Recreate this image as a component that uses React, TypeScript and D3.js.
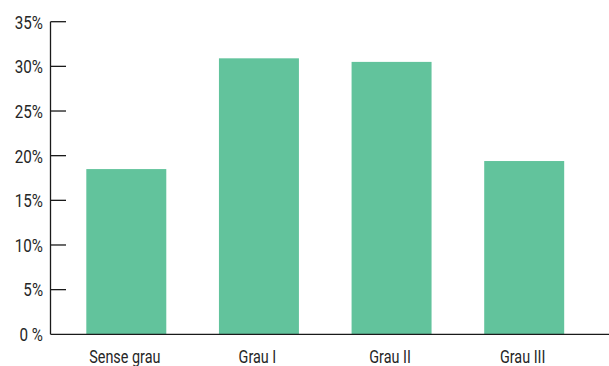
import React from "react";
import * as d3 from "d3";

const categories = ["Sense grau", "Grau I", "Grau II", "Grau III"];
const values = [18.5, 30.9, 30.5, 19.4];
const yTicks = [0, 5, 10, 15, 20, 25, 30, 35];
const yTickLabels = ["0 %", "5%", "10%", "15%", "20%", "25%", "30%", "35%"];

const W = 609;
const H = 366;
const FONT = "Roboto, 'Noto Sans', sans-serif";
// horizontal squeeze that gives the labels a condensed look
const SQUEEZE = 0.8;

export default function App() {
  const x0 = 50.5;
  const yBase = 334.3;
  const yTop = 21.7;

  const y = d3.scaleLinear().domain([0, 35]).range([yBase, yTop]);
  const x = d3
    .scaleBand<string>()
    .domain(categories)
    .range([x0, 600])
    .paddingInner(0.397)
    .paddingOuter(0.27);

  return (
    <div style={{ position: "fixed", left: 0, top: 0 }}>
      <svg width={W} height={H} style={{ display: "block", background: "#fff" }}>
        {categories.map((c, i) => (
          <rect
            key={c}
            x={x(c)}
            y={y(values[i])}
            width={x.bandwidth()}
            height={yBase - y(values[i])}
            fill="#62c39c"
          />
        ))}
        {/* y axis */}
        <line x1={x0} x2={x0} y1={yTop} y2={yBase} stroke="#1a1a1a" strokeWidth={1.3} />
        {yTicks.map((t, i) => (
          <g key={t}>
            {t > 0 && (
              <line x1={x0} x2={66} y1={y(t)} y2={y(t)} stroke="#1a1a1a" strokeWidth={1.3} />
            )}
            <text
              transform={`translate(43,${y(t)}) scale(${SQUEEZE},1)`}
              dy="0.36em"
              textAnchor="end"
              fontFamily={FONT}
              fontSize={19}
              fill="#262626"
            >
              {yTickLabels[i]}
            </text>
          </g>
        ))}
        {/* x axis */}
        <line x1={x0} x2={W} y1={yBase} y2={yBase} stroke="#1a1a1a" strokeWidth={1.3} />
        {categories.map((c) => (
          <text
            key={c}
            transform={`translate(${(x(c) ?? 0) + x.bandwidth() / 2 - 1.5},362.5) scale(${SQUEEZE},1)`}
            textAnchor="middle"
            fontFamily={FONT}
            fontSize={18}
            fill="#262626"
          >
            {c}
          </text>
        ))}
      </svg>
    </div>
  );
}
